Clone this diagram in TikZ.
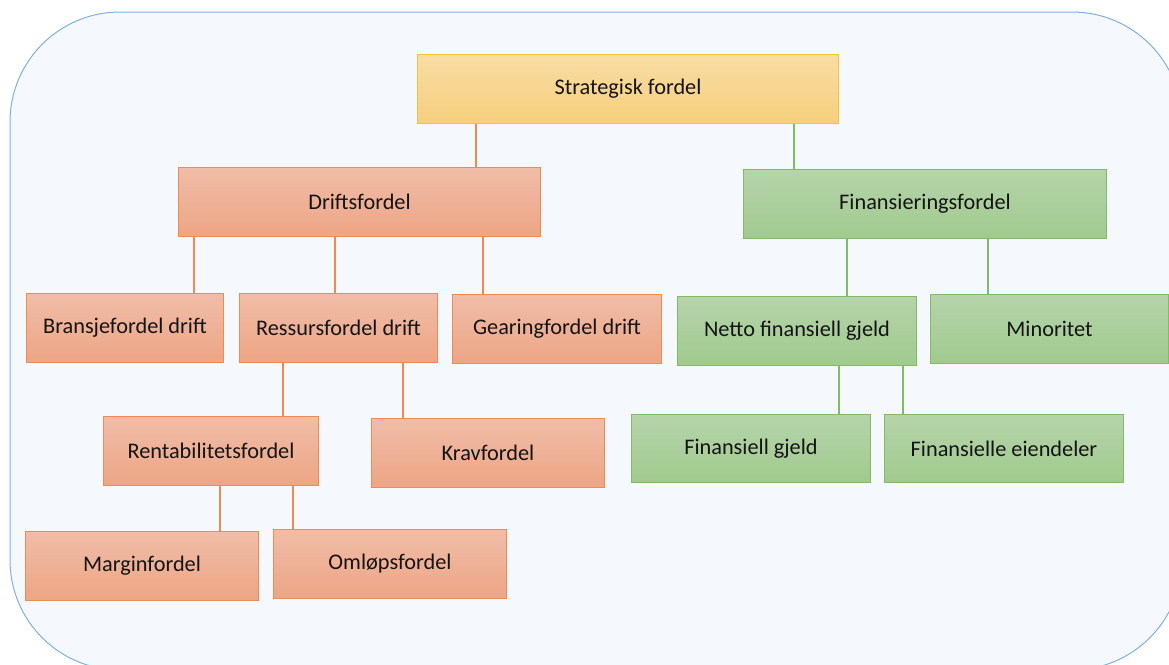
\documentclass[tikz,border=0pt]{standalone}
\usepackage{fontspec}
\setmainfont{Carlito}
\usetikzlibrary{calc}

\definecolor{bgfill}{HTML}{F5F8FC}
\definecolor{bgline}{HTML}{7FB0E0}
\definecolor{yeltop}{HTML}{F8DDA3}
\definecolor{yelbot}{HTML}{F6CF7E}
\definecolor{yelline}{HTML}{F5C33A}
\definecolor{ortop}{HTML}{F0BDA8}
\definecolor{orbot}{HTML}{EDA585}
\definecolor{orline}{HTML}{EE8A52}
\definecolor{grtop}{HTML}{B6D4AB}
\definecolor{grbot}{HTML}{A0CA8E}
\definecolor{grline}{HTML}{82BB64}
\definecolor{txt}{HTML}{141414}

\tikzset{
  box/.style={anchor=north west, inner sep=0pt, line width=1pt,
    text=txt, font=\fontsize{22.3}{26}\selectfont},
  yelbox/.style={box, draw=yelline, top color=yeltop, bottom color=yelbot},
  orbox/.style={box, draw=orline, top color=ortop, bottom color=orbot},
  grbox/.style={box, draw=grline, top color=grtop, bottom color=grbot},
  orlink/.style={draw=orline, line width=1.4pt},
  grlink/.style={draw=grline, line width=1.4pt},
}

% place a box by its corners: name, style, x0, y0, x1, y1, text
\newcommand{\placebox}[7]{%
  \pgfmathsetmacro{\bw}{#5-#3}\pgfmathsetmacro{\bh}{#6-#4}%
  \node[#2, minimum width=\bw pt, minimum height=\bh pt] (#1) at (#3,#4) {#7};}

\begin{document}
\begin{tikzpicture}[x=1pt, y=-1pt]
  \useasboundingbox (0,0) rectangle (1169,664);
  \clip (0,0) rectangle (1169,664);

  % rounded panel behind the chart
  \draw[bgline, fill=bgfill, line width=1pt, rounded corners=110pt]
    (10,12) rectangle (1182,670);

  % top level
  \placebox{strat}{yelbox}{417}{54}{838}{123}{Strategisk fordel}

  % second level
  \placebox{drift}{orbox}{178}{167}{540}{236}{Driftsfordel}
  \placebox{fin}{grbox}{743}{169}{1106}{238}{Finansieringsfordel}

  % third level
  \placebox{bransje}{orbox}{26}{293}{223}{362}{Bransjefordel drift}
  \placebox{ressurs}{orbox}{239}{293}{437}{362}{Ressursfordel drift}
  \placebox{gearing}{orbox}{452}{294}{661}{363}{Gearingfordel drift}
  \placebox{netto}{grbox}{677}{296}{916}{365}{Netto finansiell gjeld}
  \placebox{minor}{grbox}{930}{294}{1168}{363}{Minoritet}

  % fourth level
  \placebox{rent}{orbox}{103}{416}{318}{485}{Rentabilitetsfordel}
  \placebox{krav}{orbox}{371}{418}{604}{487}{Kravfordel}
  \placebox{fgjeld}{grbox}{631}{414}{870}{482}{Finansiell gjeld}
  \placebox{feiend}{grbox}{884}{414}{1123}{482}{Finansielle eiendeler}

  % fifth level
  \placebox{margin}{orbox}{25}{531}{258}{600}{Marginfordel}
  \placebox{omlop}{orbox}{273}{529}{506}{598}{Omløpsfordel}

  % connectors: drop from the parent's lower edge to the child's upper edge
  \draw[orlink] ([xshift=59pt]strat.south west) coordinate (a1) -- (a1 |- drift.north);
  \draw[grlink] ([xshift=377pt]strat.south west) coordinate (a2) -- (a2 |- fin.north);

  \draw[orlink] ([xshift=16pt]drift.south west) coordinate (b1) -- (b1 |- bransje.north);
  \draw[orlink] ([xshift=157pt]drift.south west) coordinate (b2) -- (b2 |- ressurs.north);
  \draw[orlink] ([xshift=305pt]drift.south west) coordinate (b3) -- (b3 |- gearing.north);

  \draw[grlink] ([xshift=104pt]fin.south west) coordinate (c1) -- (c1 |- netto.north);
  \draw[grlink] ([xshift=245pt]fin.south west) coordinate (c2) -- (c2 |- minor.north);

  \draw[orlink] ([xshift=44pt]ressurs.south west) coordinate (d1) -- (d1 |- rent.north);
  \draw[orlink] ([xshift=164pt]ressurs.south west) coordinate (d2) -- (d2 |- krav.north);

  \draw[orlink] ([xshift=117pt]rent.south west) coordinate (e1) -- (e1 |- margin.north);
  \draw[orlink] ([xshift=190pt]rent.south west) coordinate (e2) -- (e2 |- omlop.north);

  \draw[grlink] ([xshift=162pt]netto.south west) coordinate (f1) -- (f1 |- fgjeld.north);
  \draw[grlink] ([xshift=226pt]netto.south west) coordinate (f2) -- (f2 |- feiend.north);
\end{tikzpicture}
\end{document}
